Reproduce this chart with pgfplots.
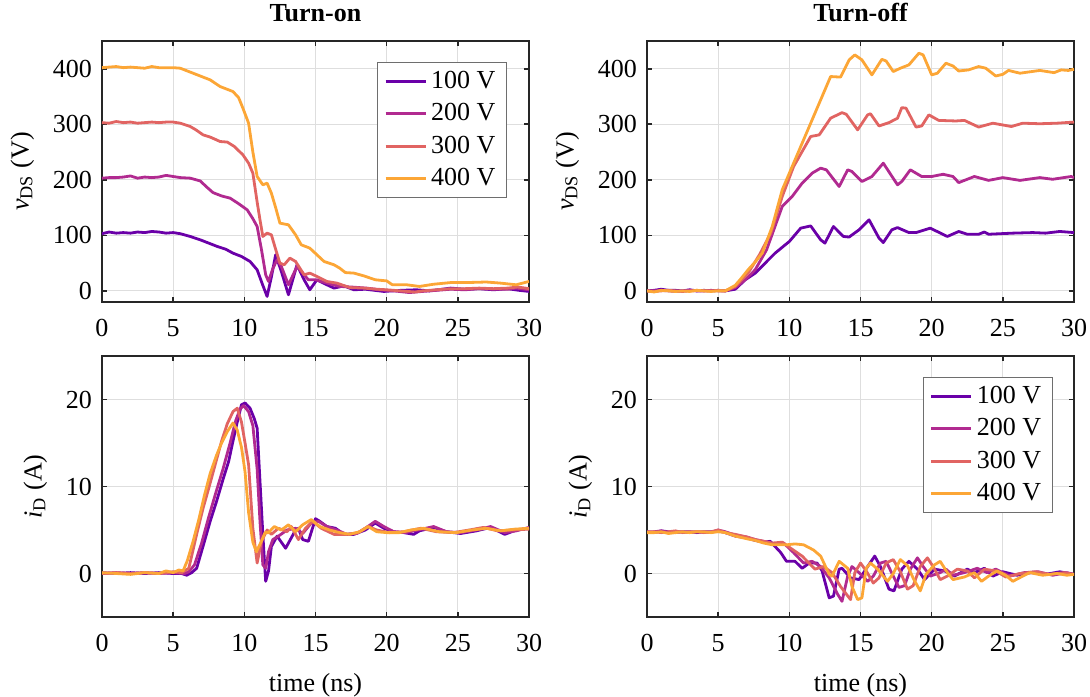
\documentclass[border=0pt]{standalone}
\usepackage{fontspec}
\setmainfont{Liberation Serif}
\usepackage{pgfplots}
\pgfplotsset{compat=1.18}
\definecolor{cA}{RGB}{106,0,168}
\definecolor{cB}{RGB}{177,42,144}
\definecolor{cC}{RGB}{225,100,98}
\definecolor{cD}{RGB}{252,166,54}
\definecolor{axc}{RGB}{38,38,38}
\definecolor{gridc}{RGB}{222,222,222}
\definecolor{legc}{RGB}{110,110,110}
\newcommand\fs{\fontsize{13}{15}\selectfont}
\pgfplotsset{
  myax/.style={
    width=213.5pt, height=130.5pt, scale only axis,
    xmin=0, xmax=30, xtick={0,5,...,30},
    grid=major, grid style={line width=0.45pt, color=gridc},
    axis line style={line width=0.8pt, color=axc},
    every tick/.style={line width=0.8pt, color=axc},
    major tick length=2.5pt,
    tick align=inside, xtick pos=both, ytick pos=both,
    tick label style={font=\fs, text=black},
    xticklabel style={yshift=-5pt},
    yticklabel style={xshift=-1.5pt},
    label style={font=\fs},
    xlabel style={yshift=-4pt},
    ylabel style={at={(ticklabel cs:0.5,2.5pt)}},
    title style={font=\fs\bfseries},
    /pgf/number format/assume math mode=true,
    no markers,
    every axis plot/.append style={line width=1.4pt, line join=round},
    cycle list={{cA},{cB},{cC},{cD}},
    legend cell align=left,
    legend image code/.code={\draw[##1] (0pt,0pt) -- (20pt,0pt);},
    legend style={font=\fs, draw=legc, line width=0.5pt, inner xsep=3.5pt, inner ysep=2pt,
      nodes={inner sep=2pt, text height=9pt, text depth=2pt}, row sep=1.2pt},
  },
  vtop/.style={ymin=-20, ymax=450, ytick={0,100,...,400}, ylabel={\textit{v}\textsubscript{DS} (V)}},
  ibot/.style={ymin=-5, ymax=25, ytick={0,10,20}, ylabel={\textit{i}\textsubscript{D} (A)}, xlabel={time (ns)}},
}
\begin{document}
\begin{tikzpicture}
% ---------------- Turn-on v_DS
\begin{axis}[myax, vtop, at={(51pt,197pt)}, anchor=south west, title={Turn-on},
  legend style={at={(0.948,0.92)}, anchor=north east}]
\addplot coordinates {(0,103) (0.5,106) (1,104) (1.5,105) (2,104) (2.5,106) (3,105) (3.5,107) (4,106) (4.5,104) (5,105) (5.5,103) (6.2,98) (6.9,92) (7.5,86) (8.1,80) (8.7,75) (9.2,68) (9.8,62) (10.4,53) (10.9,38) (11.3,10) (11.6,-10) (11.9,25) (12.2,65) (12.6,35) (13.1,-7) (13.7,47) (14.2,20) (14.6,2) (15.1,20) (15.8,11) (16.3,5) (17,9) (17.7,2) (18.5,3) (19.8,-1) (21,1) (22.1,2) (23,0) (24.5,5) (25.5,3) (26.5,4) (27.5,2) (28.5,4) (29.3,1) (30,-1)};
\addlegendentry{100 V}
\addplot coordinates {(0,203) (0.5,204) (1,204) (1.5,205) (2,207) (2.5,203) (3,205) (3.5,204) (4,205) (4.5,208) (5,206) (5.5,204) (6.2,203) (6.9,198) (7.4,186) (7.8,177) (8.4,171) (9,167) (9.6,157) (10.2,146) (10.6,130) (10.9,116) (11.2,75) (11.5,29) (11.7,17) (12.0,40) (12.3,56) (12.6,44) (13.1,11) (13.7,44) (14.2,29) (14.5,20) (15,20) (15.8,14) (16.7,8) (17.5,7) (18.6,5) (19.5,2) (20.5,0) (21.6,-3) (22.5,-1) (23.5,1) (24.5,3) (25.5,2) (26.5,4) (27.5,3) (28.5,3) (29.1,5) (30,2)};
\addlegendentry{200 V}
\addplot coordinates {(0,303) (0.5,302) (1,305) (1.5,303) (2,304) (2.5,302) (3,303) (3.5,304) (4,303) (4.5,304) (5,304) (5.5,302) (6.2,296) (6.6,290) (7.1,281) (7.6,277) (8.3,269) (8.8,268) (9.3,260) (9.9,245) (10.3,230) (10.6,212) (10.9,160) (11.1,128) (11.3,98) (11.6,104) (11.9,101) (12.2,75) (12.5,50) (12.8,47) (13.2,59) (13.6,53) (14.2,29) (14.6,32) (15.1,26) (15.8,17) (16.5,14) (17.4,6) (18.4,5) (19.3,3) (20,2) (21,0) (22,-2) (22.5,0) (23.5,2) (24.5,4) (25.5,4) (26.5,5) (27.5,4) (28.5,5) (29.2,7) (30,4)};
\addlegendentry{300 V}
\addplot coordinates {(0,402) (0.5,403) (1,404) (1.5,402) (2,403) (2.5,402) (3,401) (3.5,404) (4,402) (4.5,402) (5,402) (5.5,401) (6,396) (6.4,392) (7,386) (7.6,380) (8.3,368) (8.8,363) (9.2,359) (9.6,348) (9.9,329) (10.3,302) (10.6,250) (10.9,206) (11.3,191) (11.6,194) (11.9,176) (12.2,150) (12.5,122) (13.1,119) (13.6,101) (14.0,83) (14.6,77) (15.1,65) (15.6,53) (16.3,47) (16.7,41) (17.1,33) (17.7,32) (18.4,27) (19.2,20) (20,18) (20.4,11) (21.4,11) (22.3,8) (23.3,12) (24.5,15) (25.6,15) (27,16) (28,14) (29.1,11) (30,17)};
\addlegendentry{400 V}
\end{axis}
% ---------------- Turn-off v_DS
\begin{axis}[myax, vtop, at={(323.5pt,197pt)}, anchor=south west, title={Turn-off}]
\addplot coordinates {(0,0) (0.5,1) (1,3) (1.5,1) (2,1) (2.5,0) (3,2) (3.5,0) (4,1) (4.5,0) (5,1) (5.5,0) (6.2,3) (6.9,20) (7.6,32) (8.3,50) (9,68) (10,89) (10.8,113) (11.5,117) (12.2,92) (12.5,86) (13.1,116) (13.8,98) (14.2,97) (14.9,110) (15.6,128) (16.3,95) (16.6,87) (17.2,110) (17.6,114) (18.4,105) (18.9,105) (19.9,113) (21.1,98) (21.9,107) (22.5,102) (23.3,102) (23.7,106) (24,102) (25.7,104) (27.1,105) (28,104) (29,107) (30,105)};
\addplot coordinates {(0,0) (0.5,0) (1,1) (1.5,0) (2,-1) (2.5,0) (3,1) (3.5,0) (4,0) (4.5,1) (5,0) (5.5,0) (6.2,6) (6.9,20) (7.6,38) (8.4,74) (9.5,152) (10.2,170) (10.9,194) (11.6,212) (12.2,221) (12.6,218) (13.5,188) (14.1,218) (14.4,215) (15.1,197) (15.8,206) (16.6,230) (17.6,191) (17.9,197) (18.5,218) (19.3,206) (20,206) (20.8,210) (21.5,206) (21.9,195) (23,206) (24,199) (25,204) (26.2,199) (27.6,204) (28.5,201) (29.8,206) (30,204)};
\addplot coordinates {(0,0) (0.5,-1) (1,0) (1.5,1) (2,0) (2.5,-1) (3,0) (3.5,1) (4,0) (4.5,0) (5,1) (5.5,0) (6.2,8) (7.1,32) (7.9,65) (8.7,104) (9.5,170) (10.3,224) (11.5,278) (12.1,281) (12.9,311) (13.7,321) (14.0,318) (14.8,290) (15.5,317) (15.7,319) (16.3,297) (17,303) (17.6,311) (17.9,330) (18.2,329) (18.9,295) (19.3,297) (19.8,317) (20.5,307) (21.7,306) (22.3,307) (23.3,295) (24.3,302) (25.6,296) (26.4,302) (27.6,301) (28.8,302) (30,304)};
\addplot coordinates {(0,0) (0.5,-2) (1,1) (1.5,0) (2,-1) (2.5,0) (3,-1) (3.5,1) (4,0) (4.5,-1) (5,0) (5.5,0) (6.2,10) (6.6,22) (7.1,38) (7.6,52) (8.1,68) (8.8,116) (9.5,182) (10.4,236) (11.4,296) (12.2,344) (12.9,386) (13.6,385) (14.2,416) (14.6,425) (15.1,416) (15.8,389) (16.5,417) (16.8,414) (17.3,395) (17.8,401) (18.4,407) (19.1,428) (19.4,425) (20,389) (20.4,392) (21,410) (21.5,405) (21.9,396) (22.6,398) (23.3,404) (23.8,401) (24.5,387) (25,390) (25.4,397) (26.2,392) (27.6,397) (28.6,393) (29.1,398) (29.6,397) (30,399)};
\end{axis}
% ---------------- Turn-on i_D
\begin{axis}[myax, ibot, at={(51pt,39.5pt)}, anchor=south west]
\addplot coordinates {(0,0.1) (1,0) (2,0.1) (3,0) (4,0.1) (5,0) (5.6,0) (5.95,-0.2) (6.3,0.1) (6.65,0.6) (7.2,3.7) (7.6,6.0) (8.05,8.3) (8.5,10.8) (8.9,12.9) (9.2,15.2) (9.5,17.4) (9.8,19.4) (10.05,19.6) (10.4,19.0) (10.7,17.8) (10.9,16.7) (11.1,10.6) (11.3,4.5) (11.5,-0.9) (11.7,0.3) (11.9,3.1) (12.3,4.3) (12.9,2.9) (13.5,4.7) (13.8,5.2) (14.1,3.9) (14.5,3.7) (15,6.3) (15.3,6.0) (15.8,5.4) (16.4,5.2) (17,4.5) (17.7,4.5) (18.5,5.0) (19.2,5.8) (19.8,5.2) (20.5,4.8) (21.2,4.7) (21.9,4.5) (22.3,4.9) (23.3,5.3) (24.2,4.8) (25.2,4.6) (26.3,4.9) (27.3,5.3) (28.3,4.5) (29.1,5.0) (30,5.2)};
\addplot coordinates {(0,0) (1,0.1) (2,0) (3,0.1) (4,0) (5,0.1) (5.8,0) (6.1,0.2) (6.5,1.0) (7.0,3.5) (7.5,6.5) (8.0,9.3) (8.5,12.0) (9.0,15.0) (9.4,17.6) (9.7,18.9) (9.95,19.3) (10.3,18.6) (10.6,17.0) (10.9,12.0) (11.1,6.0) (11.3,1.0) (11.5,0.6) (11.7,2.5) (12.0,3.9) (12.4,4.3) (13.0,5.0) (13.6,5.2) (14.1,4.6) (14.7,5.8) (15.2,6.0) (15.8,5.4) (16.5,5.0) (17.2,4.5) (17.9,4.6) (18.5,5.2) (19.2,6.0) (19.8,5.4) (20.5,4.8) (21.3,4.7) (22.2,5.0) (23.3,5.4) (24.2,4.8) (25.2,4.7) (26.3,5.0) (27.3,5.4) (28.3,4.7) (29.1,4.9) (30,5.3)};
\addplot coordinates {(0,0) (1,0.1) (2,0) (3,0.1) (4,0) (5,0.2) (5.6,0.1) (6.1,0.6) (6.65,4.5) (7.1,7.5) (7.5,9.8) (8.0,12.8) (8.4,15.2) (8.8,17.2) (9.2,18.6) (9.5,19.0) (9.8,17.4) (10.05,15.0) (10.3,12.5) (10.6,5.2) (10.9,1.2) (11.2,3.7) (11.6,5.0) (11.9,4.5) (12.4,5.2) (13.0,4.8) (13.3,5.4) (13.8,3.9) (14.3,5.2) (14.8,6.0) (15.4,5.2) (16.3,4.5) (17.2,4.5) (18.0,4.7) (18.7,5.4) (19.3,5.0) (20.2,4.7) (21.2,4.8) (22.4,5.2) (23.5,4.8) (24.7,4.7) (25.8,5.0) (26.8,5.3) (27.8,4.9) (28.8,5.0) (30,5.1)};
\addplot coordinates {(0,0.1) (1,0) (2,-0.1) (3,0.1) (4,0) (4.5,0.3) (5,0.1) (5.4,0.4) (5.7,0.3) (6.0,1.5) (6.4,3.7) (6.8,6.2) (7.2,9.0) (7.6,11.5) (8.05,13.6) (8.4,15.0) (8.8,16.3) (9.2,17.3) (9.5,16.5) (9.8,14.5) (10.05,11.7) (10.3,7.0) (10.6,3.6) (10.85,2.5) (11.05,3.2) (11.2,3.7) (11.45,4.7) (11.7,4.7) (12.1,5.4) (12.6,5.0) (13.1,5.6) (13.6,4.8) (14.1,5.6) (14.7,6.2) (15.3,5.4) (16.0,5.0) (16.7,4.7) (17.4,4.5) (18.1,4.8) (18.7,5.4) (19.3,4.8) (20.0,4.7) (20.9,4.7) (21.7,5.0) (22.6,5.2) (23.7,4.8) (24.9,4.7) (26.0,5.0) (27.0,5.2) (28.0,4.9) (29.0,5.1) (30,5.2)};
\end{axis}
% ---------------- Turn-off i_D
\begin{axis}[myax, ibot, at={(323.5pt,39.5pt)}, anchor=south west,
  legend style={at={(0.95,0.92)}, anchor=north east}]
\addplot coordinates {(0,4.8) (0.5,4.7) (1,4.9) (1.5,4.8) (2,4.7) (2.5,4.8) (3,4.8) (3.5,4.7) (4,4.8) (4.5,4.8) (5,4.9) (5.5,4.7) (6.2,4.3) (7,4.1) (7.6,3.8) (8.2,3.6) (8.66,3.7) (9.4,2.4) (9.8,1.4) (10.4,1.4) (10.9,0.6) (11.4,1.2) (11.95,1.2) (12.3,0.3) (12.8,-2.8) (13.1,-2.6) (13.5,0.5) (13.7,0.6) (14.3,-0.5) (14.9,-0.7) (15.5,0.8) (16.0,2.0) (16.4,0.8) (17.0,-1.8) (17.35,-2.0) (17.9,0.5) (18.4,1.4) (19.0,0.5) (19.5,-0.7) (20.2,0.5) (20.9,0.3) (21.6,-0.3) (22.5,0.5) (23.0,0.1) (23.7,0.6) (24.3,-0.3) (25,0.2) (26,-0.2) (27,0.1) (28,-0.1) (29,0.2) (30,-0.1)};
\addlegendentry{100 V}
\addplot coordinates {(0,4.7) (0.5,4.8) (1,4.9) (1.5,4.7) (2,4.8) (2.5,4.8) (3,4.7) (3.5,4.8) (4,4.8) (4.5,4.7) (5,5.0) (5.5,4.8) (6.2,4.4) (7,4.2) (7.6,3.9) (8.2,3.7) (8.8,3.4) (9.6,3.5) (10.3,2.4) (11.0,1.2) (11.6,1.4) (12.2,0.8) (12.8,-0.5) (13.4,-2.4) (13.7,-3.2) (14.1,-0.3) (14.4,0.8) (14.9,0.1) (15.5,-0.9) (15.9,-0.3) (16.4,1.2) (16.8,1.4) (17.3,-0.3) (17.7,-1.6) (18.1,-1.4) (18.5,0.5) (19.0,1.8) (19.4,0.8) (19.9,-0.3) (20.6,0.1) (21.0,0.5) (21.5,-0.2) (22.3,0.1) (23.2,0.6) (23.9,0.1) (24.5,0.5) (25.5,-0.3) (26.5,0.1) (27.5,0.2) (28.5,-0.2) (29.5,0.1) (30,-0.1)};
\addlegendentry{200 V}
\addplot coordinates {(0,4.8) (0.5,4.8) (1,4.7) (1.5,4.8) (2,4.9) (2.5,4.7) (3,4.8) (3.5,4.8) (4,4.7) (4.5,4.8) (5,5.0) (5.5,4.7) (6.2,4.5) (7,4.2) (7.6,3.9) (8.2,3.7) (8.8,3.5) (9.5,3.6) (10.1,2.9) (10.9,2.0) (11.8,0.5) (12.4,0.8) (13.0,0.1) (13.6,-1.5) (14.3,-3.0) (14.6,0.1) (15.0,1.2) (15.4,0.3) (15.9,-1.1) (16.3,-0.5) (16.8,1.2) (17.3,1.6) (17.8,0.2) (18.3,-1.8) (18.7,-1.4) (19.2,0.8) (19.7,1.8) (20.1,0.8) (20.6,-0.7) (21.1,-0.3) (21.8,0.5) (22.5,0.3) (23.0,-0.5) (23.7,0.5) (24.5,0.3) (25.2,-0.4) (26.2,0.0) (27.3,0.2) (28.3,-0.1) (29.3,0.1) (30,-0.1)};
\addlegendentry{300 V}
\addplot coordinates {(0,4.7) (0.5,4.7) (1,4.8) (1.5,4.6) (2,4.7) (2.5,4.8) (3,4.7) (3.5,4.8) (4,4.8) (4.5,4.7) (5,4.8) (5.5,4.7) (6.2,4.3) (7,4.0) (7.6,3.8) (8.2,3.5) (8.8,3.3) (9.8,3.3) (10.4,3.4) (11.0,3.3) (11.7,2.7) (12.2,2.0) (12.8,-0.1) (13.0,-0.3) (13.5,1.4) (14.1,0.6) (14.4,-1.5) (14.8,-3.0) (15.1,-2.8) (15.4,0.6) (15.7,1.2) (16.2,0.5) (16.9,-0.9) (17.3,0.0) (17.8,1.6) (18.3,0.9) (18.75,-0.7) (19.2,-2.0) (19.6,-0.1) (20.2,1.0) (20.6,1.4) (21.1,0.1) (21.5,-0.7) (22.3,-0.4) (23.0,0.1) (23.5,-0.9) (24.0,-0.3) (24.6,0.3) (25.2,-0.2) (25.7,-0.9) (26.4,-0.3) (26.9,0.1) (27.8,-0.2) (28.8,0.0) (29.5,-0.2) (30,-0.1)};
\addlegendentry{400 V}
\end{axis}
\pgfresetboundingbox
\path[use as bounding box] (0pt,0pt) rectangle (545pt,348pt);
\end{tikzpicture}
\end{document}
